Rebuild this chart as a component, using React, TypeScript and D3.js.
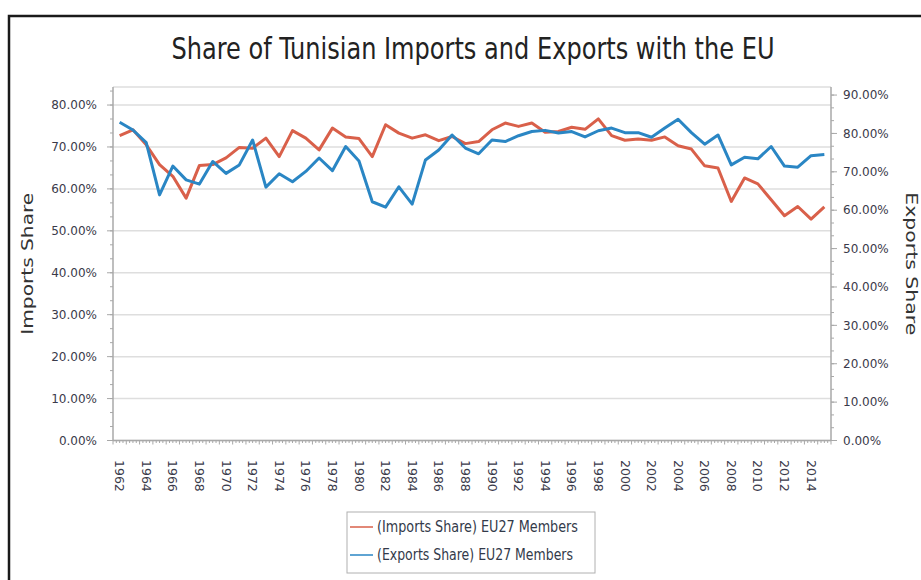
import React from 'react';
import * as d3 from 'd3';

const years = [1962,1963,1964,1965,1966,1967,1968,1969,1970,1971,1972,1973,1974,1975,1976,1977,1978,1979,1980,1981,1982,1983,1984,1985,1986,1987,1988,1989,1990,1991,1992,1993,1994,1995,1996,1997,1998,1999,2000,2001,2002,2003,2004,2005,2006,2007,2008,2009,2010,2011,2012,2013,2014,2015];
const importsValues = [72.7,74.1,70.5,65.8,63.0,57.8,65.6,65.8,67.4,69.9,69.7,72.1,67.7,73.9,72.1,69.3,74.5,72.4,72.0,67.7,75.3,73.3,72.1,72.9,71.5,72.5,70.8,71.3,74.1,75.7,74.9,75.7,73.5,73.7,74.7,74.2,76.7,72.7,71.6,71.9,71.6,72.4,70.3,69.5,65.5,65.0,57.0,62.6,61.2,57.4,53.6,55.8,52.8,55.7];
const exportsValues = [82.9,80.9,77.6,64.0,71.5,67.9,66.8,72.7,69.6,71.8,78.3,66.0,69.5,67.4,70.1,73.6,70.3,76.6,72.8,62.2,60.8,66.1,61.6,73.1,75.7,79.6,76.2,74.7,78.3,77.9,79.4,80.5,80.8,80.1,80.5,79.1,80.7,81.4,80.2,80.2,79.0,81.4,83.7,80.2,77.2,79.6,71.8,73.8,73.4,76.6,71.5,71.2,74.2,74.5];
const leftTicks = [0,10,20,30,40,50,60,70,80];
const rightTicks = [0,10,20,30,40,50,60,70,80,90];
const xLabelYears = [1962,1964,1966,1968,1970,1972,1974,1976,1978,1980,1982,1984,1986,1988,1990,1992,1994,1996,1998,2000,2002,2004,2006,2008,2010,2012,2014];
const seriesNames = ['(Imports Share) EU27 Members', '(Exports Share) EU27 Members'];
const seriesColors = ['#d9604a', '#2a86c4'];

const FONT = "'DejaVu Sans', Verdana, sans-serif";
const NARROW = "'DejaVu Sans Condensed', 'Liberation Sans Narrow', 'Liberation Sans', sans-serif";

export default function App() {
  const W = 921, H = 580;
  const x0 = 113, x1 = 831, yTop = 87, yBot = 440.5;
  const x = d3.scaleBand<number>().domain(years).range([x0, x1]);
  const bw = x.bandwidth();
  const cx = (yr: number) => (x(yr) as number) + bw / 2;
  const yL = d3.scaleLinear().domain([0, 84.3]).range([yBot, yTop]);
  const yR = d3.scaleLinear().domain([0, 92.1]).range([yBot, yTop]);

  const lineL = d3.line<number>().x((_, i) => cx(years[i])).y(d => yL(d));
  const lineR = d3.line<number>().x((_, i) => cx(years[i])).y(d => yR(d));

  const leftMinor = d3.range(0, 84.3, 10 / 3);
  const rightMinor = d3.range(0, 92.1, 10 / 3);
  const xMinor = d3.range(0, years.length * 4 + 1).map(k => x0 + (k * bw) / 4);

  const fmt = (v: number) => v.toFixed(2) + '%';

  return (
    <svg width={W} height={H} style={{ position: 'absolute', left: 0, top: 0, background: '#fff' }}>
      <rect x={0} y={0} width={W} height={H} fill="#fff" />
      <rect x={9} y={16} width={1200} height={1200} fill="none" stroke="#1a1a1a" strokeWidth={2.5} />

      <text x={473} y={59} textAnchor="middle" fontFamily={NARROW} fontSize={31} fill="#222"
        textLength={603} lengthAdjust="spacingAndGlyphs">Share of Tunisian Imports and Exports with the EU</text>

      {leftTicks.map(t => (
        <line key={'g' + t} x1={x0} x2={x1} y1={yL(t)} y2={yL(t)} stroke="#dedede" strokeWidth={1.5} />
      ))}
      <line x1={x0} x2={x1} y1={yTop} y2={yTop} stroke="#dedede" strokeWidth={1.5} />

      <line x1={x0} x2={x0} y1={yTop} y2={yBot} stroke="#a8a8a8" strokeWidth={1.5} />
      {leftMinor.map((t, i) => (
        <line key={'lm' + i} x1={x0 - 3} x2={x0} y1={yL(t)} y2={yL(t)} stroke="#a8a8a8" strokeWidth={1} />
      ))}
      {leftTicks.map(t => (
        <g key={'lt' + t}>
          <line x1={x0 - 6} x2={x0} y1={yL(t)} y2={yL(t)} stroke="#a8a8a8" strokeWidth={1} />
          <text x={97} y={yL(t)} dy="0.35em" textAnchor="end" fontFamily={FONT} fontSize={12} fill="#3a3a4a">{fmt(t)}</text>
        </g>
      ))}

      <line x1={x1} x2={x1} y1={yTop} y2={yBot} stroke="#a8a8a8" strokeWidth={1.5} />
      {rightMinor.map((t, i) => (
        <line key={'rm' + i} x1={x1} x2={x1 + 3} y1={yR(t)} y2={yR(t)} stroke="#a8a8a8" strokeWidth={1} />
      ))}
      {rightTicks.map(t => (
        <g key={'rt' + t}>
          <line x1={x1} x2={x1 + 6} y1={yR(t)} y2={yR(t)} stroke="#a8a8a8" strokeWidth={1} />
          <text x={843} y={yR(t)} dy="0.35em" textAnchor="start" fontFamily={FONT} fontSize={12} fill="#3a3a4a">{fmt(t)}</text>
        </g>
      ))}

      <line x1={x0} x2={x1} y1={yBot} y2={yBot} stroke="#a8a8a8" strokeWidth={1.5} />
      {xMinor.map((px, i) => (
        <line key={'xm' + i} x1={px} x2={px} y1={yBot} y2={yBot + (i % 4 === 0 ? 4 : 2.5)} stroke="#a8a8a8" strokeWidth={1} />
      ))}
      {xLabelYears.map(yr => (
        <text key={'xl' + yr} transform={`translate(${cx(yr)},460) rotate(90)`} textAnchor="start" dy="0.35em"
          fontFamily={FONT} fontSize={12.5} fill="#3a3a4a">{yr}</text>
      ))}

      <text transform={`translate(33,${(yTop + yBot) / 2}) rotate(-90)`} textAnchor="middle"
        fontFamily={FONT} fontSize={16} fill="#333" textLength={142} lengthAdjust="spacingAndGlyphs">Imports Share</text>
      <text transform={`translate(906,${(yTop + yBot) / 2}) rotate(90)`} textAnchor="middle"
        fontFamily={FONT} fontSize={16} fill="#333" textLength={143} lengthAdjust="spacingAndGlyphs">Exports Share</text>

      <path d={lineL(importsValues) || ''} fill="none" stroke={seriesColors[0]} strokeWidth={3} strokeLinejoin="round" />
      <path d={lineR(exportsValues) || ''} fill="none" stroke={seriesColors[1]} strokeWidth={3} strokeLinejoin="round" />

      <rect x={347} y={512} width={248} height={61} fill="#fff" stroke="#b0b0b0" strokeWidth={1} />
      {seriesNames.map((n, i) => (
        <g key={'lg' + i}>
          <line x1={350} x2={373} y1={527 + i * 28} y2={527 + i * 28} stroke={seriesColors[i]} strokeWidth={1.5} />
          <text x={377} y={527 + i * 28} dy="0.35em" fontFamily={NARROW} fontSize={15} fill="#333a4a"
            textLength={i === 0 ? 201 : 196} lengthAdjust="spacingAndGlyphs">{n}</text>
        </g>
      ))}
    </svg>
  );
}
